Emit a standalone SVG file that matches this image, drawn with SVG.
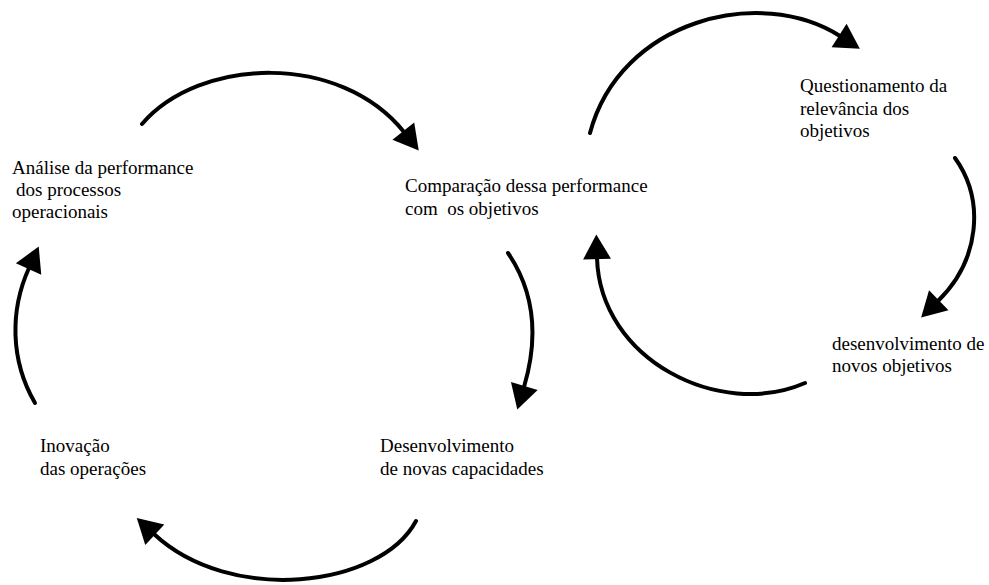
<svg xmlns="http://www.w3.org/2000/svg" width="989" height="585" viewBox="0 0 989 585">
  <style>
    .lbl { font-family: "Liberation Serif", "Times New Roman", serif; font-size: 19px; fill: #000; }
    .arc { fill: none; stroke: #000; stroke-width: 4; stroke-linecap: round; }
  </style>
  <defs>
    <marker id="head" markerUnits="userSpaceOnUse" markerWidth="30" markerHeight="30" viewBox="0 -14 24 28" refX="1" refY="0" orient="auto">
      <path d="M0,-13 L23,0 L0,13 z" fill="#000"/>
    </marker>
  </defs>
  <rect width="989" height="585" fill="#fff"/>

  <g id="connectors">
    <!-- Análise -> Comparação -->
    <path class="arc" d="M142,124 C200,57 340,52 404,132" marker-end="url(#head)"/>
    <!-- Comparação -> Questionamento -->
    <path class="arc" d="M590,133 C620,20 760,-15 840,36" marker-end="url(#head)"/>
    <!-- Questionamento -> desenvolvimento de novos objetivos -->
    <path class="arc" d="M955,158 C985,200 980,260 938,301" marker-end="url(#head)"/>
    <!-- novos objetivos -> Comparação -->
    <path class="arc" d="M805,383 C720,420 600,360 597,258" marker-end="url(#head)"/>
    <!-- Comparação -> Desenvolvimento de novas capacidades -->
    <path class="arc" d="M508,253 C540,300 535,350 524,387" marker-end="url(#head)"/>
    <!-- Desenvolvimento -> Inovação -->
    <path class="arc" d="M416,521 C380,588 230,605 154,534" marker-end="url(#head)"/>
    <!-- Inovação -> Análise -->
    <path class="arc" d="M35,403 C10,360 10,310 29,268" marker-end="url(#head)"/>
  </g>

  <g id="analise">
    <text class="lbl" x="12" y="174">Análise da performance</text>
    <text class="lbl" x="16" y="196">dos processos</text>
    <text class="lbl" x="12" y="218">operacionais</text>
  </g>
  <g id="comparacao">
    <text class="lbl" x="405" y="192">Comparação dessa performance</text>
    <text class="lbl" x="405" y="215" xml:space="preserve">com  os objetivos</text>
  </g>
  <g id="questionamento">
    <text class="lbl" x="800" y="92">Questionamento da</text>
    <text class="lbl" x="800" y="115">relevância dos</text>
    <text class="lbl" x="800" y="137">objetivos</text>
  </g>
  <g id="novos-objetivos">
    <text class="lbl" x="832" y="350">desenvolvimento de</text>
    <text class="lbl" x="832" y="372">novos objetivos</text>
  </g>
  <g id="inovacao">
    <text class="lbl" x="40" y="452">Inovação</text>
    <text class="lbl" x="40" y="475">das operações</text>
  </g>
  <g id="capacidades">
    <text class="lbl" x="380" y="452">Desenvolvimento</text>
    <text class="lbl" x="380" y="475">de novas capacidades</text>
  </g>
</svg>
